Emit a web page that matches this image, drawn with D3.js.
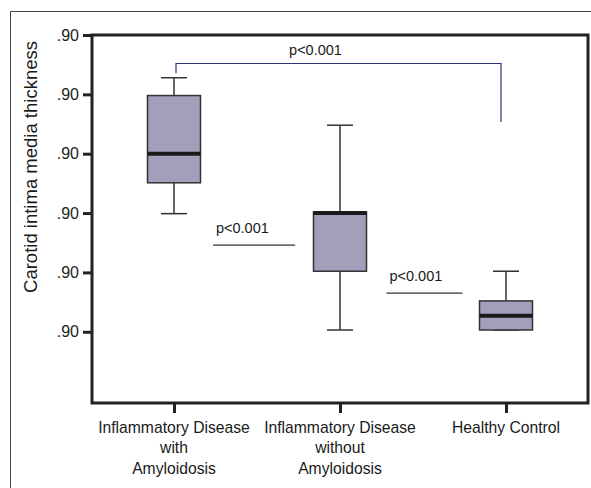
<!doctype html>
<html>
  <head>
    <meta charset="utf-8">
    <title>Carotid intima media thickness</title>
    <script src="https://cdnjs.cloudflare.com/ajax/libs/d3/7.8.5/d3.min.js"></script>
    <style>
      body { margin: 0; background: #fff; }
      svg { display: block; font-family: "Liberation Sans", Arial, sans-serif; }
    </style>
  </head>
  <body>
    <div id="chart"></div>
    <script>
      // groups (x categories), each label split over lines
      const groups = ['IDA', 'IDN', 'HC'];
      const groupLabels = [
        ['Inflammatory Disease', 'with', 'Amyloidosis'],
        ['Inflammatory Disease', 'without', 'Amyloidosis'],
        ['Healthy Control']
      ];

      // box statistics
      const mins    = [0.599, 0.403, 0.403];
      const q1s     = [0.651, 0.502, 0.403];
      const medians = [0.700, 0.600, 0.427];
      const q3s     = [0.798, 0.602, 0.452];
      const maxs    = [0.828, 0.748, 0.502];

      // y ticks (the source prints the same label on every tick)
      const tickValues = [0.4, 0.5, 0.6, 0.7, 0.8, 0.9];
      const tickLabels = ['.90', '.90', '.90', '.90', '.90', '.90'];

      // significance annotations
      const pairLines = [
        { between: 0.5, y: 0.546, label: 'p<0.001' },
        { between: 1.5, y: 0.465, label: 'p<0.001' }
      ];
      const bracket = { from: 0, to: 2, y: 0.852, yFrom: 0.8355, yTo: 0.7535, label: 'p<0.001' };

      const width = 591, height = 488;
      const plot = { left: 92, right: 588, top: 35, bottom: 403 };

      const svg = d3.select('#chart').append('svg')
        .attr('width', width)
        .attr('height', height);

      // outer frame (only top and left visible)
      svg.append('path')
        .attr('d', `M10.5,${height} V11.5 H${width}`)
        .attr('fill', 'none')
        .attr('stroke', '#444')
        .attr('stroke-width', 1);

      const x = d3.scalePoint()
        .domain(groups)
        .range([plot.left, plot.right])
        .padding(0.494);

      const y = d3.scaleLinear()
        .domain([0.28, 0.90])
        .range([plot.bottom, plot.top]);

      const xAt = i => x(groups[0]) + i * x.step();

      const data = groups.map((g, i) => ({
        g, min: mins[i], q1: q1s[i], med: medians[i], q3: q3s[i], max: maxs[i]
      }));

      const boxW = 53, capW = 26;

      const box = svg.append('g').selectAll('g')
        .data(data)
        .join('g')
        .attr('transform', d => `translate(${x(d.g)},0)`);

      // whiskers
      box.append('line')
        .attr('y1', d => y(d.max)).attr('y2', d => y(d.q3))
        .attr('stroke', '#333').attr('stroke-width', 1.5);
      box.append('line')
        .attr('y1', d => y(d.q1)).attr('y2', d => y(d.min))
        .attr('stroke', '#333').attr('stroke-width', 1.5);
      box.append('line')
        .attr('x1', -capW / 2).attr('x2', capW / 2)
        .attr('y1', d => y(d.max)).attr('y2', d => y(d.max))
        .attr('stroke', '#333').attr('stroke-width', 1.5);
      box.append('line')
        .attr('x1', -capW / 2).attr('x2', capW / 2)
        .attr('y1', d => y(d.min)).attr('y2', d => y(d.min))
        .attr('stroke', '#333').attr('stroke-width', 1.5);

      // boxes
      box.append('rect')
        .attr('x', -boxW / 2)
        .attr('width', boxW)
        .attr('y', d => y(d.q3))
        .attr('height', d => y(d.q1) - y(d.q3))
        .attr('fill', '#a29fbb')
        .attr('stroke', '#333')
        .attr('stroke-width', 1.5);

      // medians
      box.append('line')
        .attr('x1', -boxW / 2).attr('x2', boxW / 2)
        .attr('y1', d => y(d.med)).attr('y2', d => y(d.med))
        .attr('stroke', '#1a1a1a').attr('stroke-width', 4);

      // y axis
      const yAxis = svg.append('g')
        .attr('transform', `translate(${plot.left},0)`)
        .call(d3.axisLeft(y)
          .tickValues(tickValues)
          .tickFormat((d, i) => tickLabels[i])
          .tickSize(9)
          .tickPadding(4));
      yAxis.select('.domain').remove();
      yAxis.selectAll('.tick line').attr('stroke', '#222').attr('stroke-width', 3);
      yAxis.selectAll('.tick text')
        .attr('font-size', 16).attr('fill', '#222')
        .attr('font-family', '"Liberation Sans", Arial, sans-serif');

      // x axis ticks
      const xAxis = svg.append('g')
        .attr('transform', `translate(0,${plot.bottom})`)
        .call(d3.axisBottom(x).tickSize(10).tickFormat(''));
      xAxis.select('.domain').remove();
      xAxis.selectAll('.tick line').attr('stroke', '#222').attr('stroke-width', 3);

      // x labels
      svg.append('g').selectAll('text')
        .data(groups)
        .join('text')
        .attr('x', d => x(d))
        .attr('y', 433)
        .attr('text-anchor', 'middle')
        .attr('font-size', 15.7)
        .attr('fill', '#1a1a1a')
        .selectAll('tspan')
        .data((d, i) => groupLabels[i])
        .join('tspan')
        .attr('x', function () { return this.parentNode.getAttribute('x'); })
        .attr('dy', (d, i) => i === 0 ? 0 : 20.3)
        .text(d => d);

      // plot frame
      svg.append('rect')
        .attr('x', plot.left)
        .attr('y', plot.top)
        .attr('width', plot.right - plot.left)
        .attr('height', plot.bottom - plot.top)
        .attr('fill', 'none')
        .attr('stroke', '#222')
        .attr('stroke-width', 3);

      // y title
      svg.append('text')
        .attr('transform', 'translate(36.5,167) rotate(-90)')
        .attr('text-anchor', 'middle')
        .attr('font-size', 18.5)
        .attr('fill', '#1a1a1a')
        .text('Carotid intima media thickness');

      // pairwise lines (extent given as fractions of the category step)
      const pairExtent = [[-0.265, 0.23], [-0.22, 0.238]];
      const pairs = svg.append('g').selectAll('g')
        .data(pairLines)
        .join('g');
      pairs.append('line')
        .attr('x1', (d, i) => xAt(d.between) + x.step() * pairExtent[i][0])
        .attr('x2', (d, i) => xAt(d.between) + x.step() * pairExtent[i][1])
        .attr('y1', d => y(d.y)).attr('y2', d => y(d.y))
        .attr('stroke', '#333').attr('stroke-width', 1.2);
      pairs.append('text')
        .attr('x', (d, i) => xAt(d.between) + x.step() * pairExtent[i][0] + 3)
        .attr('y', d => y(d.y) - 12)
        .attr('font-size', 14.5)
        .attr('fill', '#1a1a1a')
        .text(d => d.label);

      // top bracket
      const bx1 = xAt(bracket.from) + 2, bx2 = xAt(bracket.to) - 5;
      svg.append('path')
        .attr('d', `M${bx1},${y(bracket.yFrom)} V${y(bracket.y)} H${bx2} V${y(bracket.yTo)}`)
        .attr('fill', 'none')
        .attr('stroke', '#2e3575')
        .attr('stroke-width', 1.2);
      svg.append('text')
        .attr('x', (bx1 + bx2) / 2 - 23)
        .attr('y', y(bracket.y) - 8)
        .attr('text-anchor', 'middle')
        .attr('font-size', 14.5)
        .attr('fill', '#1a1a1a')
        .text(bracket.label);
    </script>
  </body>
</html>
